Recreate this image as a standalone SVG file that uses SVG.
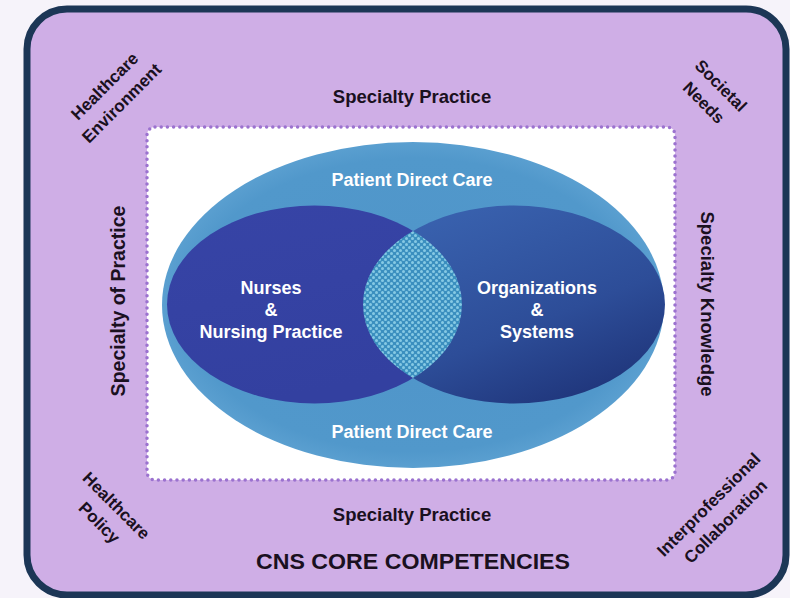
<svg xmlns="http://www.w3.org/2000/svg" width="790" height="598" viewBox="0 0 790 598">
  <style>
    .lbl{font-family:"Liberation Sans",Arial,sans-serif;font-weight:bold;fill:#1a1020;text-anchor:middle}
    .wht{font-family:"Liberation Sans",Arial,sans-serif;font-weight:bold;fill:#ffffff;text-anchor:middle;font-size:18px}
    .corner{font-size:17px}
  </style>
  <defs>
    <radialGradient id="bigG" cx="50%" cy="50%" r="50%">
      <stop offset="0" stop-color="#4f94c9"/>
      <stop offset="0.9" stop-color="#5198cb"/>
      <stop offset="1" stop-color="#5a9fd0"/>
    </radialGradient>
    <linearGradient id="leftG" x1="0" y1="0" x2="0.3" y2="1">
      <stop offset="0" stop-color="#3744a6"/>
      <stop offset="1" stop-color="#3340a0"/>
    </linearGradient>
    <linearGradient id="rightG" x1="0.2" y1="0" x2="0.8" y2="1">
      <stop offset="0" stop-color="#3a63b0"/>
      <stop offset="0.6" stop-color="#2d4d98"/>
      <stop offset="1" stop-color="#1e3378"/>
    </linearGradient>
    <pattern id="check" width="6" height="6" patternUnits="userSpaceOnUse">
      <rect width="6" height="6" fill="#3b8fbf"/>
      <circle cx="1.5" cy="1.5" r="1.5" fill="#86c9e4"/>
      <circle cx="4.5" cy="4.5" r="1.5" fill="#86c9e4"/>
    </pattern>
    <clipPath id="leftClip">
      <ellipse cx="314.5" cy="304.5" rx="147.5" ry="99"/>
    </clipPath>
  </defs>

  <rect x="0" y="0" width="790" height="598" fill="#f6f3fa"/>

  <g id="frame">
    <rect x="27" y="9" width="759" height="586" rx="40" ry="40" fill="#cfaee6" stroke="#1c3656" stroke-width="7"/>
    <rect x="147" y="127" width="528" height="353" rx="8" ry="8" fill="#ffffff" stroke="#9b72cf" stroke-width="3.5" stroke-dasharray="0 6.2" stroke-linecap="round"/>
  </g>

  <g id="patient-direct-care">
    <ellipse cx="413" cy="305" rx="251" ry="163" fill="url(#bigG)"/>
    <text class="wht" x="412" y="186">Patient Direct Care</text>
    <text class="wht" x="412" y="438">Patient Direct Care</text>
  </g>

  <g id="nurses">
    <ellipse cx="314.5" cy="304.5" rx="147.5" ry="99" fill="url(#leftG)"/>
    <text class="wht" x="271" y="294">Nurses</text>
    <text class="wht" x="271" y="316">&amp;</text>
    <text class="wht" x="271" y="338">Nursing Practice</text>
  </g>

  <g id="organizations">
    <ellipse cx="514" cy="304.5" rx="151" ry="99" fill="url(#rightG)"/>
    <text class="wht" x="537" y="294">Organizations</text>
    <text class="wht" x="537" y="316">&amp;</text>
    <text class="wht" x="537" y="338">Systems</text>
  </g>

  <g id="overlap">
    <ellipse cx="514" cy="304.5" rx="151" ry="99" fill="url(#check)" clip-path="url(#leftClip)"/>
  </g>

  <g id="sides">
    <text class="lbl" x="412" y="103" font-size="18.5">Specialty Practice</text>
    <text class="lbl" x="412" y="521" font-size="18.5">Specialty Practice</text>
    <text class="lbl" font-size="19.5" transform="translate(125,301) rotate(-90)">Specialty of Practice</text>
    <text class="lbl" font-size="18.5" transform="translate(701,304) rotate(90)">Specialty Knowledge</text>
  </g>

  <g id="corners">
    <g transform="translate(113,94.5) rotate(-45)">
      <text class="lbl corner" x="0" y="-6">Healthcare</text>
      <text class="lbl corner" x="0" y="18">Environment</text>
    </g>
    <g transform="translate(712.5,94) rotate(45)">
      <text class="lbl corner" x="0" y="-6">Societal</text>
      <text class="lbl corner" x="0" y="18">Needs</text>
    </g>
    <g transform="translate(108,514) rotate(45)">
      <text class="lbl corner" x="0" y="-6">Healthcare</text>
      <text class="lbl corner" x="0" y="18">Policy</text>
    </g>
    <g transform="translate(717,513) rotate(-45)">
      <text class="lbl corner" x="0" y="-6">Interprofessional</text>
      <text class="lbl corner" x="0" y="18">Collaboration</text>
    </g>
  </g>

  <g id="title">
    <text class="lbl" x="413" y="569" font-size="21.5" textLength="314" lengthAdjust="spacingAndGlyphs">CNS CORE COMPETENCIES</text>
  </g>
</svg>
